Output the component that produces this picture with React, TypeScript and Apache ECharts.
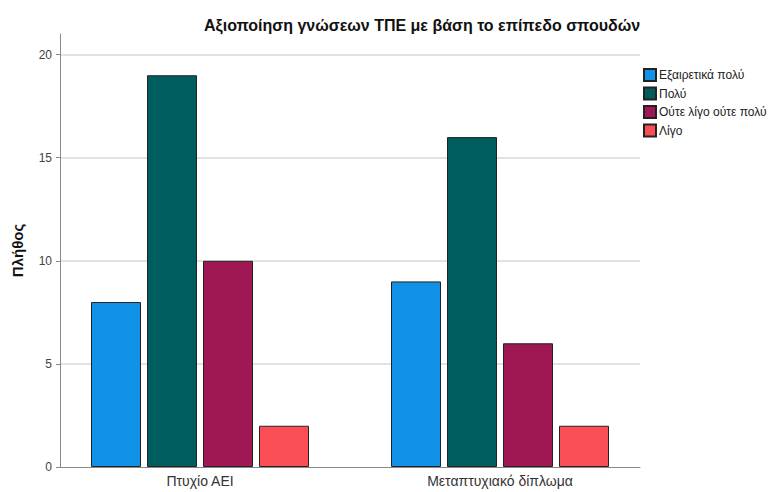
import React, { useEffect, useRef } from "react";
import * as echarts from "echarts";

const categories = ["Πτυχίο ΑΕΙ", "Μεταπτυχιακό δίπλωμα"];
const seriesNames = ["Εξαιρετικά πολύ", "Πολύ", "Ούτε λίγο ούτε πολύ", "Λίγο"];
const excellentValues = [8, 9];
const muchValues = [19, 16];
const neitherValues = [10, 6];
const littleValues = [2, 2];
const colors = ["#1192e8", "#005d5d", "#9f1853", "#fa4d56"];

const FONT = "'Liberation Sans', Arial, sans-serif";

export default function App() {
  const ref = useRef<HTMLDivElement>(null);
  useEffect(() => {
    if (!ref.current) return;
    document.body.style.margin = "0";
    const chart = echarts.init(ref.current, undefined, { renderer: "svg" });
    const values = [excellentValues, muchValues, neitherValues, littleValues];
    chart.setOption({
      animation: false,
      backgroundColor: "#ffffff",
      textStyle: { fontFamily: FONT },
      title: {
        text: "Αξιοποίηση γνώσεων ΤΠΕ με βάση το επίπεδο σπουδών",
        left: 199,
        top: 12,
        textStyle: { fontFamily: FONT, fontSize: 16, fontWeight: "bold", color: "#111" },
      },
      legend: {
        orient: "vertical",
        left: 638,
        top: 63,
        itemWidth: 12,
        itemHeight: 12,
        itemGap: 4.5,
        icon: "rect",
        textStyle: { fontFamily: FONT, fontSize: 12, color: "#222", padding: [0, 0, 0, -2] },
        data: seriesNames,
      },
      grid: [
        { left: 60, right: 140, top: 34, bottom: 25 },
        { left: 50, right: 130, top: 34, bottom: 25 },
      ],
      xAxis: [
        {
          gridIndex: 0,
          type: "value",
          min: 0,
          max: 1,
          axisLine: { show: true, lineStyle: { color: "#888", width: 1 } },
          axisTick: { show: false },
          axisLabel: { show: false },
          splitLine: { show: false },
        },
        {
          gridIndex: 1,
          type: "category",
          data: categories,
          axisLine: { show: false },
          axisTick: { show: false },
          axisLabel: { fontFamily: FONT, fontSize: 14, color: "#333", margin: 7 },
        },
      ],
      yAxis: [
        {
          gridIndex: 0,
          type: "value",
          min: 0,
          max: 21,
          interval: 5,
          name: "Πλήθος",
          nameLocation: "middle",
          nameRotate: 90,
          nameGap: 35,
          nameTextStyle: { fontFamily: FONT, fontSize: 15, fontWeight: "bold", color: "#111" },
          axisLine: { show: true, lineStyle: { color: "#888", width: 1 } },
          axisTick: { show: true, length: 4, lineStyle: { color: "#888" } },
          axisLabel: { fontFamily: FONT, fontSize: 12, color: "#444", showMaxLabel: false, margin: 8 },
          splitLine: { show: true, showMaxLine: false, showMinLine: false, lineStyle: { color: "#d8d8d8", width: 1.5 } },
        },
        {
          gridIndex: 1,
          type: "value",
          min: 0,
          max: 21,
          show: false,
        },
      ],
      series: seriesNames.map((name, i) => ({
        name,
        type: "bar",
        xAxisIndex: 1,
        yAxisIndex: 1,
        data: values[i],
        barWidth: 50,
        barGap: "12%",
        itemStyle: { color: colors[i], borderColor: "#222", borderWidth: 1 },
      })),
    });
    return () => chart.dispose();
  }, []);
  return <div ref={ref} style={{ width: 780, height: 492 }} />;
}
